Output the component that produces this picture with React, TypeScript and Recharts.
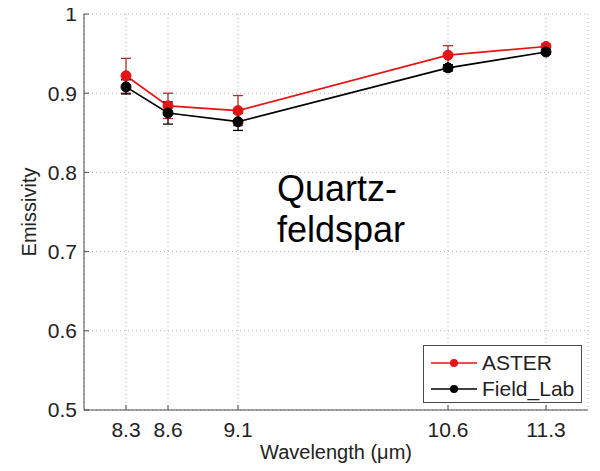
import { CartesianGrid, ErrorBar, Line, LineChart, XAxis, YAxis } from "recharts";

const wavelengths = [8.3, 8.6, 9.1, 10.6, 11.3];
const asterValues = [0.922, 0.884, 0.878, 0.948, 0.959];
const asterErrors = [0.022, 0.016, 0.019, 0.012, 0.003];
const fieldValues = [0.908, 0.875, 0.864, 0.932, 0.952];
const fieldErrors = [0.009, 0.014, 0.011, 0.004, 0.003];
const xTicks = [8.3, 8.6, 9.1, 10.6, 11.3];
const yTicks = [0.5, 0.6, 0.7, 0.8, 0.9, 1];

const data = wavelengths.map((w, i) => ({
  wavelength: w,
  aster: asterValues[i],
  asterErr: asterErrors[i],
  field: fieldValues[i],
  fieldErr: fieldErrors[i],
}));

const series = [
  { key: "aster", err: "asterErr", name: "ASTER", color: "#e41414", errColor: "#a83030" },
  { key: "field", err: "fieldErr", name: "Field_Lab", color: "#000000", errColor: "#000000" },
];

const font = "'Liberation Sans', Arial, sans-serif";
const frame = "#4a4a4a";

const YLabel = ({ viewBox }: any) => {
  const cx = 29;
  const cy = viewBox.y + viewBox.height / 2;
  return (
    <text
      x={cx}
      y={cy}
      transform={`rotate(-90 ${cx} ${cy})`}
      textAnchor="middle"
      dominantBaseline="central"
      fontSize={20}
      fill="#222"
      fontFamily={font}
    >
      Emissivity
    </text>
  );
};

export default function App() {
  return (
    <div style={{ position: "relative", width: 600, height: 471, margin: -8, fontFamily: font, background: "#fff" }}>
      <LineChart width={600} height={471} data={data} margin={{ top: 14, right: 12, left: 0, bottom: 0 }}>
        <CartesianGrid stroke="#b0b0b0" strokeDasharray="1 3" />
        <XAxis
          dataKey="wavelength"
          type="number"
          domain={[8, 11.6]}
          ticks={xTicks}
          height={61}
          tickSize={-5}
          tickMargin={17}
          stroke={frame}
          tick={{ fontSize: 21, fill: "#222", fontFamily: font }}
          label={{ value: "Wavelength (\u03bcm)", position: "insideBottom", offset: 12, fontSize: 20, fill: "#222", fontFamily: font }}
        />
        <XAxis xAxisId="top" orientation="top" type="number" domain={[8, 11.6]} ticks={xTicks} height={0} tick={false} tickSize={-5} stroke={frame} />
        <YAxis
          domain={[0.5, 1]}
          ticks={yTicks}
          width={84}
          tickSize={-5}
          tickMargin={12}
          stroke={frame}
          tick={{ fontSize: 21, fill: "#222", fontFamily: font }}
          label={YLabel}
        />
        <YAxis yAxisId="right" orientation="right" domain={[0.5, 1]} ticks={yTicks} width={0} tick={false} tickSize={-5} stroke={frame} />
        {series.map((s) => (
          <Line
            key={s.key}
            dataKey={s.key}
            name={s.name}
            stroke={s.color}
            strokeWidth={1.7}
            dot={{ r: 5, fill: s.color, stroke: s.color, strokeWidth: 1 }}
            isAnimationActive={false}
          >
            <ErrorBar dataKey={s.err} direction="y" width={5} stroke={s.errColor} strokeWidth={1.3} />
          </Line>
        ))}
      </LineChart>
      <div style={{ position: "absolute", left: 277, top: 168, fontSize: 36, lineHeight: "41px", color: "#000" }}>
        Quartz-
        <br />
        feldspar
      </div>
      <div
        style={{
          position: "absolute",
          left: 423,
          top: 345,
          width: 157,
          height: 56,
          border: `1px solid ${frame}`,
          background: "#fff",
          boxSizing: "content-box",
        }}
      >
        {series.map((s, i) => (
          <div key={s.key} style={{ position: "absolute", left: 7, top: 5 + i * 26, height: 24, display: "flex", alignItems: "center" }}>
            <svg width={46} height={24}>
              <line x1={0} y1={12} x2={46} y2={12} stroke={s.color} strokeWidth={1.3} />
              <circle cx={23} cy={12} r={4} fill={s.color} />
            </svg>
            <span style={{ marginLeft: 5, fontSize: 21, color: "#222" }}>{s.name}</span>
          </div>
        ))}
      </div>
    </div>
  );
}
